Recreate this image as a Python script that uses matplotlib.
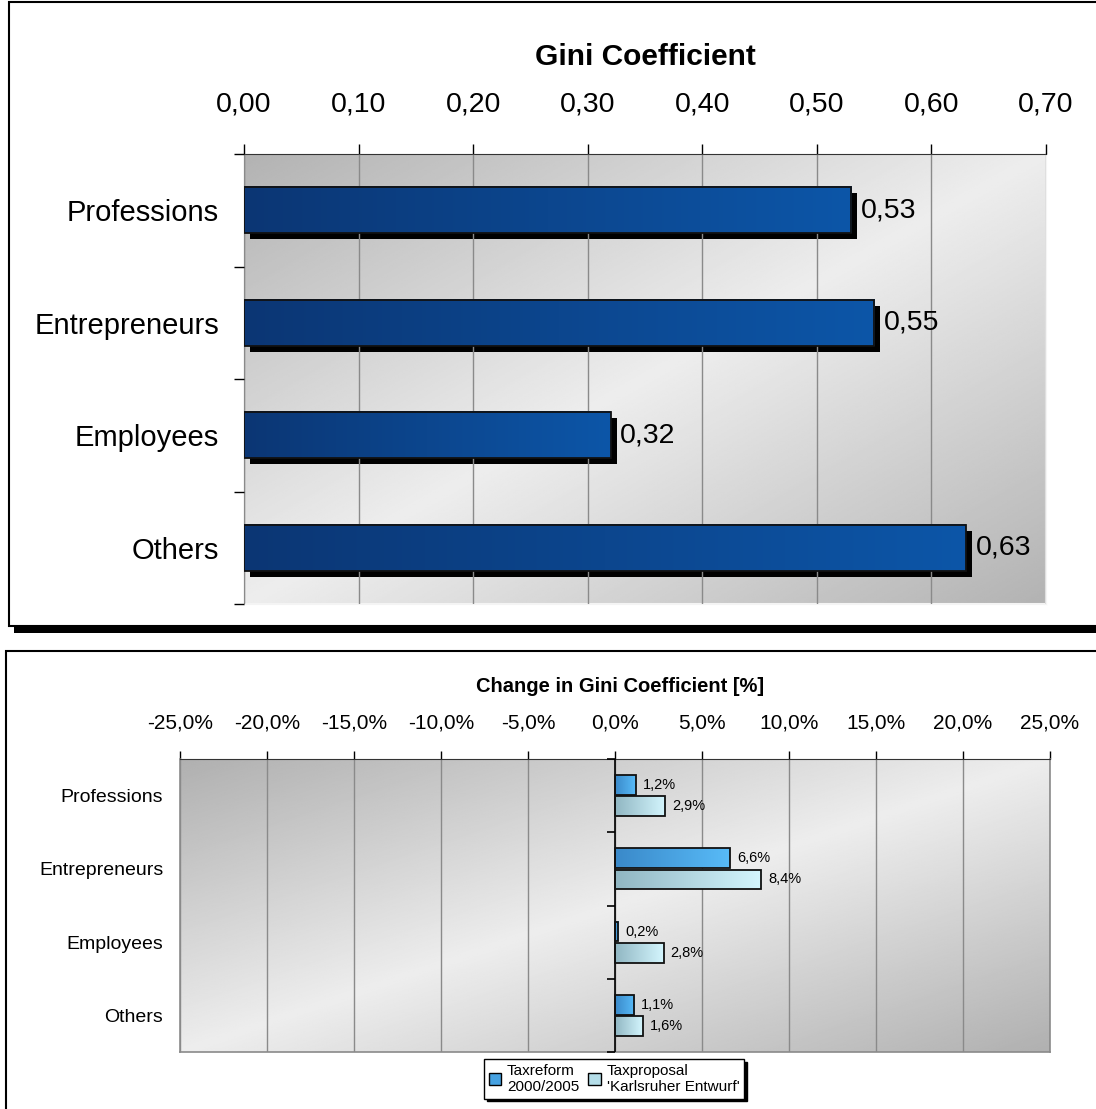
import numpy as np
import matplotlib
matplotlib.use("Agg")
import matplotlib.pyplot as plt
from matplotlib.colors import LinearSegmentedColormap
from matplotlib.patches import Rectangle, Patch
from matplotlib.ticker import FuncFormatter
from matplotlib.transforms import ScaledTranslation

plt.rcParams['font.family'] = ['Liberation Sans', 'DejaVu Sans']

# data
groups = ["Professions", "Entrepreneurs", "Employees", "Others"]
gini = [0.53, 0.55, 0.32, 0.63]
gini_ticks = [0.0, 0.1, 0.2, 0.3, 0.4, 0.5, 0.6, 0.7]

change_reform = [1.2, 6.6, 0.2, 1.1]
change_proposal = [2.9, 8.4, 2.8, 1.6]
change_ticks = [-25, -20, -15, -10, -5, 0, 5, 10, 15, 20, 25]
legend_labels = ["Taxreform\n2000/2005", "Taxproposal\n'Karlsruher Entwurf'"]

W, H = 1096, 1109
fig = plt.figure(figsize=(W / 100, H / 100), dpi=100)


def px_rect(x0, y0, x1, y1, **kw):
    """ Rectangle given in figure pixels (y from top). """
    r = Rectangle((x0 / W, 1 - y1 / H), (x1 - x0) / W, (y1 - y0) / H,
                  transform=fig.transFigure, **kw)
    fig.add_artist(r)


def bg_gradient(ax, dark, light):
    """ Diagonal grey gradient: dark corners top-left / bottom-right. """
    x = np.linspace(0, 1, 300)
    X, Y = np.meshgrid(x, x)
    u = (X + Y) / 2
    g = dark + (light - dark) * (1 - np.abs(2 * u - 1))
    ax.imshow(g, cmap="gray", vmin=0, vmax=1, extent=[0, 1, 0, 1],
              transform=ax.transAxes, aspect="auto", origin="upper", zorder=0)


def gradient_bars(ax, bars, cmap, zorder=3):
    grad = np.linspace(0, 1, 256).reshape(1, -1)
    for b in bars:
        x0, y0 = b.get_x(), b.get_y()
        w, h = b.get_width(), b.get_height()
        ax.imshow(grad, cmap=cmap, extent=[x0, x0 + w, y0 + h, y0],
                  aspect="auto", zorder=zorder)


# panel frames
px_rect(9, 2, 1100, 626, facecolor="white", edgecolor="black", lw=1.5, zorder=-10)
px_rect(14, 626, 1100, 633, facecolor="black", edgecolor="none", zorder=-9)
px_rect(6, 651, 1100, 1115, facecolor="white", edgecolor="black", lw=1.5, zorder=-10)

# ---------------- top chart ----------------
ax1 = fig.add_axes([244 / W, 1 - 604 / H, 802 / W, 450 / H])
bg_gradient(ax1, 0.70, 0.93)
y = np.arange(len(groups))
h1 = 0.41
top_cmap = LinearSegmentedColormap.from_list("top", ["#0b3674", "#0d56a8"])

shadow_off = ScaledTranslation(6 / 100, -6 / 100, fig.dpi_scale_trans)
ax1.barh(y, gini, height=h1, color="black", zorder=2,
         transform=ax1.transData + shadow_off)
bars1 = ax1.barh(y, gini, height=h1, facecolor="none", edgecolor="#111111",
                 lw=1.3, zorder=4)
gradient_bars(ax1, bars1, top_cmap)
for yi, v in zip(y, gini):
    ax1.annotate(("%.2f" % v).replace(".", ","), (v, yi), xytext=(7, 0),
                 textcoords="offset points", va="center", ha="left",
                 fontsize=20.5, zorder=5)

ax1.set_xlim(0, 0.7)
ax1.set_ylim(len(groups) - 0.5, -0.5)
ax1.set_xticks(gini_ticks)
ax1.xaxis.set_major_formatter(FuncFormatter(lambda v, p: ("%.2f" % v).replace(".", ",")))
ax1.xaxis.tick_top()
ax1.tick_params(axis="x", direction="out", length=7, width=1, labelsize=20.5, pad=19)
ax1.set_yticks(y)
ax1.set_yticklabels(groups)
ax1.set_yticks(np.arange(len(groups) + 1) - 0.5, minor=True)
ax1.tick_params(axis="y", which="major", length=0, labelsize=21, pad=18)
ax1.tick_params(axis="y", which="minor", direction="out", length=7, width=1)
ax1.grid(axis="x", color="#8a8a8a", lw=1, zorder=1)
ax1.set_axisbelow(False)
for s in ["right", "bottom"]:
    ax1.spines[s].set_color("#f4f4f4")
    ax1.spines[s].set_linewidth(1.5)
ax1.spines["top"].set_color("#333333")
ax1.spines["left"].set_color("#333333")
fig.text(645 / W, 1 - 57 / H, "Gini Coefficient", ha="center", va="center",
         fontsize=21.5, fontweight="bold")

# ---------------- bottom chart ----------------
ax2 = fig.add_axes([180 / W, 1 - 1052 / H, 870 / W, 293 / H])
bg_gradient(ax2, 0.69, 0.93)
h2 = 0.27
off = 0.145
reform_cmap = LinearSegmentedColormap.from_list("ref", ["#3a89c9", "#58bbf8"])
prop_cmap = LinearSegmentedColormap.from_list("prop", ["#90b6c2", "#d4f6fe"])
bars_r = ax2.barh(y - off, change_reform, height=h2, facecolor="none",
                  edgecolor="#111111", lw=1.3, zorder=4)
bars_p = ax2.barh(y + off, change_proposal, height=h2, facecolor="none",
                  edgecolor="#111111", lw=1.3, zorder=4)
gradient_bars(ax2, bars_r, reform_cmap)
gradient_bars(ax2, bars_p, prop_cmap)
for yi, v in zip(y - off, change_reform):
    ax2.annotate(("%.1f%%" % v).replace(".", ","), (v, yi), xytext=(5, 0),
                 textcoords="offset points", va="center", ha="left", fontsize=10.5, zorder=5)
for yi, v in zip(y + off, change_proposal):
    ax2.annotate(("%.1f%%" % v).replace(".", ","), (v, yi), xytext=(5, 0),
                 textcoords="offset points", va="center", ha="left", fontsize=10.5, zorder=5)

ax2.axvline(0, color="black", lw=1.2, zorder=3)
bounds = np.arange(len(groups) + 1) - 0.5
ax2.plot(np.zeros(len(bounds)), bounds, ls="none", marker=0, ms=6,
         color="black", mew=1.2, zorder=3, clip_on=False)

ax2.set_xlim(-25, 25)
ax2.set_ylim(len(groups) - 0.5, -0.5)
ax2.set_xticks(change_ticks)
ax2.xaxis.set_major_formatter(FuncFormatter(lambda v, p: ("%.1f%%" % v).replace(".", ",")))
ax2.xaxis.tick_top()
ax2.tick_params(axis="x", direction="out", length=6, width=1, labelsize=15, pad=13)
ax2.set_yticks(y)
ax2.set_yticklabels(groups)
ax2.tick_params(axis="y", length=0, labelsize=14, pad=12)
ax2.grid(axis="x", color="#8a8a8a", lw=1, zorder=1)
for s in ["right", "bottom", "left"]:
    ax2.spines[s].set_color("#8a8a8a")
    ax2.spines[s].set_linewidth(1.2)
ax2.spines["top"].set_color("#333333")
fig.text(620 / W, 1 - 687 / H, "Change in Gini Coefficient [%]", ha="center",
         va="center", fontsize=14.5, fontweight="bold")

handles = [Patch(facecolor="#46a2e2", edgecolor="black"),
           Patch(facecolor="#b4dde8", edgecolor="black")]
leg = fig.legend(handles, legend_labels, loc="center", ncol=2,
                 bbox_to_anchor=(614 / W, 1 - 1079 / H), fontsize=11,
                 frameon=True, fancybox=False, shadow={"color": "black", "alpha": 1},
                 handlelength=0.8, handleheight=0.8, handletextpad=0.4,
                 columnspacing=0.6, borderpad=0.3, labelspacing=0.2)
leg.get_frame().set_edgecolor("black")
leg.get_frame().set_linewidth(1)

fig.savefig("out.png", dpi=100)
